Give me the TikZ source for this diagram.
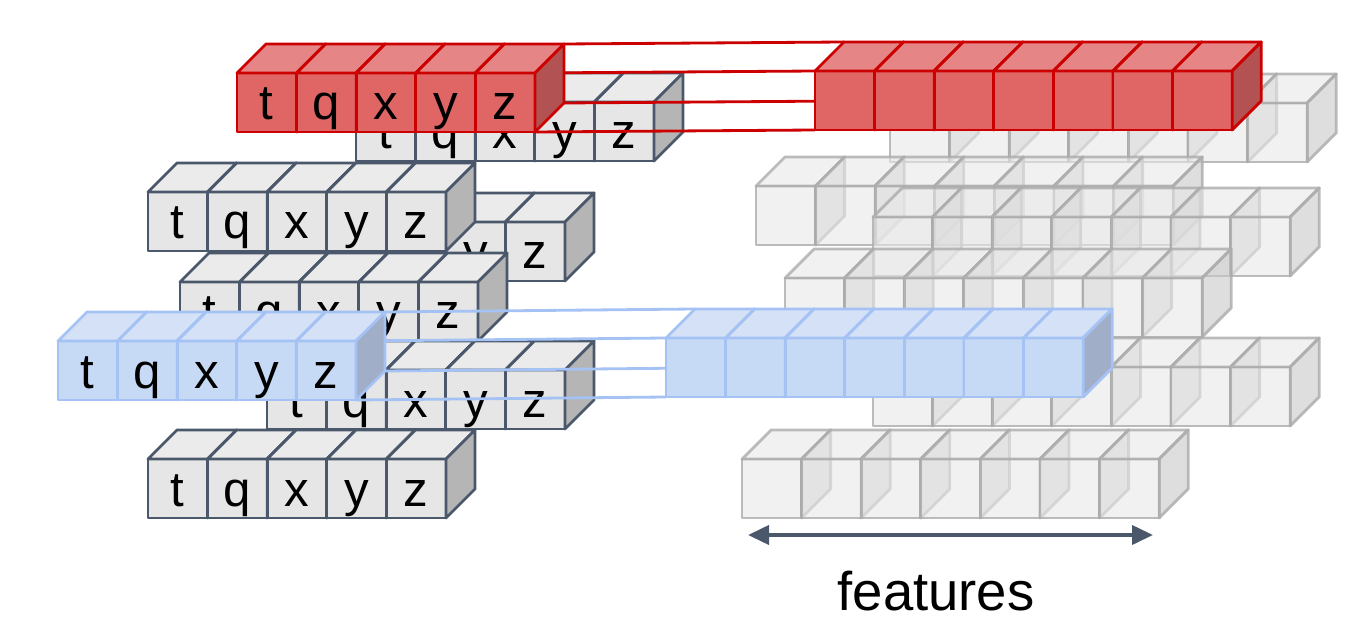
\documentclass[tikz,border=0pt]{standalone}
\usepackage{fontspec}
\setmainfont{Liberation Sans}
\usepackage{tikz}
\usetikzlibrary{arrows.meta}

\definecolor{slate}{HTML}{4B586B}
\definecolor{tokfill}{HTML}{E6E6E6}
\definecolor{toktopc}{HTML}{EBEBEB}
\definecolor{toksidec}{HTML}{B5B5B5}
\definecolor{redfill}{HTML}{E06666}
\definecolor{redtopc}{HTML}{E68585}
\definecolor{redsidec}{HTML}{B35252}
\definecolor{redline}{HTML}{CC0000}
\definecolor{bluefill}{HTML}{C6D9F5}
\definecolor{bluetopc}{HTML}{D4E1F7}
\definecolor{bluesidec}{HTML}{A0AEC7}
\definecolor{blueline}{HTML}{A4C2F4}
\definecolor{ghostfill}{HTML}{E8E8E8}
\definecolor{ghostsidec}{HTML}{C8C8C8}
\definecolor{ghostline}{HTML}{ABABAB}

\tikzset{
  face/.style={line width=1.6pt, line join=round},
  tokfront/.style={face, draw=slate, fill=tokfill},
  toktop/.style={face, draw=slate, fill=toktopc},
  tokside/.style={face, draw=slate, fill=toksidec},
  redfront/.style={face, draw=redline, fill=redfill},
  redtop/.style={face, draw=redline, fill=redtopc},
  redside/.style={face, draw=redline, fill=redsidec},
  bluefront/.style={face, draw=blueline, fill=bluefill},
  bluetop/.style={face, draw=blueline, fill=bluetopc},
  blueside/.style={face, draw=blueline, fill=bluesidec},
  ghostfront/.style={face, draw=ghostline, fill=ghostfill, fill opacity=0.6, draw opacity=0.8},
  ghosttop/.style={face, draw=ghostline, fill=ghostfill, fill opacity=0.6, draw opacity=0.8},
  ghostside/.style={face, draw=ghostline, fill=ghostsidec, fill opacity=0.6, draw opacity=0.8},
  letter/.style={anchor=base, inner sep=0pt, font=\fontsize{28}{28}\selectfont},
  redlink/.style={line width=1.6pt, draw=redline},
  bluelink/.style={line width=1.6pt, draw=blueline},
}

% one cube, (#2,#3) is the top left corner of its front face
\newcommand{\cubeat}[3]{%
  \filldraw[#1front] (#2,#3) rectangle ++(59.6,59);
  \filldraw[#1top] (#2,#3) -- ++(29,-29) -- ++(59.6,0) -- ++(-29,29) -- cycle;
  \filldraw[#1side] (#2+59.6,#3) -- ++(29,-29) -- ++(0,59) -- ++(-29,29) -- cycle;
}
% a row of five tokens
\newcommand{\tokrow}[4]{%
  \foreach \l [count=\i from 0] in {t,q,x,y,z} {
    \cubeat{#2}{#3+\i*59.6}{#4}
    \node[letter] (#1-\l) at (#3+\i*59.6+29.8,#4+47) {\l};
  }
}
% a row of seven features
\newcommand{\featrow}[3]{%
  \foreach \i in {0,...,6} {\cubeat{#1}{#2+\i*59.6}{#3}}
}
% the four corners of a side face
\newcommand{\corners}[3]{%
  \coordinate (#1-ft) at (#2,#3);
  \coordinate (#1-bt) at (#2+29,#3-29);
  \coordinate (#1-bb) at (#2+29,#3+30);
  \coordinate (#1-fb) at (#2,#3+59);
}

\begin{document}
\begin{tikzpicture}[x=0.2mm, y=-0.2mm]
  \useasboundingbox (0,0) rectangle (1372,622);

  % top rows
  \tokrow{rowA}{tok}{356}{102}
  \featrow{ghost}{890}{103}

  % red sequence and its features
  \corners{redL}{535}{73}
  \corners{redR}{815}{71}
  \foreach \c in {ft,bt,bb,fb}
    \draw[redlink] (redL-\c) -- (redR-\c);
  \tokrow{redL}{red}{237}{73}
  \featrow{red}{815}{71}

  % middle rows
  \tokrow{rowC}{tok}{267}{222}
  \tokrow{rowB}{tok}{148}{192}
  \tokrow{rowD}{tok}{180}{282}
  \tokrow{rowE}{tok}{267}{370}
  \featrow{ghost}{756}{186}
  \featrow{ghost}{873}{217}
  \featrow{ghost}{785}{278}
  \featrow{ghost}{873}{367}

  % blue sequence and its features
  \corners{blueL}{356}{341}
  \corners{blueR}{666}{338}
  \foreach \c in {ft,bt,bb,fb}
    \draw[bluelink] (blueL-\c) -- (blueR-\c);
  \tokrow{blueL}{blue}{58}{341}
  \featrow{blue}{666}{338}

  % bottom rows
  \tokrow{rowF}{tok}{148}{459}
  \featrow{ghost}{742}{459}

  % feature axis
  \coordinate (axl) at (748,535);
  \coordinate (axr) at (1153,535);
  \draw[slate, line width=2.2pt, {Triangle[length=4.2mm,width=3.8mm]}-{Triangle[length=4.2mm,width=3.8mm]}] (axl) -- (axr);
  \node[anchor=base, inner sep=0pt, font=\fontsize{31}{31}\selectfont] (feat) at (936,610) {features};
\end{tikzpicture}
\end{document}
